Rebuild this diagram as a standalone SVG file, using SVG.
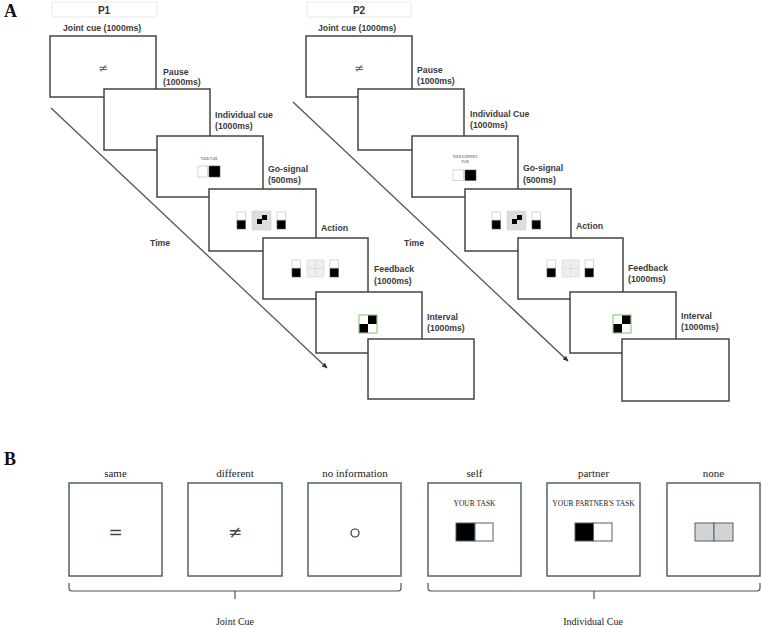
<svg xmlns="http://www.w3.org/2000/svg" xmlns:xlink="http://www.w3.org/1999/xlink" width="762" height="628" viewBox="0 0 762 628">
<style>
.bx{fill:#fff;stroke:#444;stroke-width:1.5}
.lbl{font-family:"Liberation Sans",Arial,sans-serif;font-weight:bold;font-size:8.7px;fill:#3a3a3a}
.hdr{font-family:"Liberation Sans",Arial,sans-serif;font-weight:bold;font-size:10px;fill:#333;text-anchor:middle}
.panel{font-family:"Liberation Serif","Times New Roman",serif;font-weight:bold;font-size:18px;fill:#111}
.sb{fill:#fff;stroke:#4f6272;stroke-width:1.5}
.slbl{font-family:"Liberation Serif","Times New Roman",serif;font-size:11px;fill:#222;text-anchor:middle}
.tiny{font-family:"Liberation Serif","Times New Roman",serif;font-size:3px;fill:#333;text-anchor:middle}
.small{font-family:"Liberation Serif","Times New Roman",serif;font-size:7.5px;fill:#222;text-anchor:middle}
.sym{font-family:"DejaVu Sans",sans-serif;font-size:17px;fill:#444;text-anchor:middle}
.tl{stroke:#555;stroke-width:1.3;fill:none}
.br{stroke:#555;stroke-width:1.2;fill:none}
.wsq{fill:#fff;stroke:#ccc;stroke-width:0.8}
.bsq{fill:#000;stroke:#555;stroke-width:0.6}
</style>
<defs>
<marker id="ah" markerWidth="6" markerHeight="6" refX="5" refY="3" orient="auto" markerUnits="userSpaceOnUse">
<path d="M0,0.5 L5.5,3 L0,5.5 Z" fill="#333"/>
</marker>
<g id="stack">
<rect x="0" y="0" width="8.5" height="8" class="wsq"/>
<rect x="0" y="8.5" width="8.5" height="8.5" class="bsq"/>
</g>
<g id="go">
<use xlink:href="#stack" x="28" y="23"/>
<rect x="43" y="22" width="19" height="19" fill="#ddd" stroke="#ccc" stroke-width="0.5"/>
<rect x="48" y="30" width="5" height="5" fill="#000"/>
<rect x="53" y="26" width="5" height="5" fill="#000"/>
<use xlink:href="#stack" x="68" y="23"/>
</g>
<g id="act">
<use xlink:href="#stack" x="29" y="22"/>
<rect x="44" y="22" width="17" height="17" fill="#eee" stroke="#d4d4d4" stroke-width="0.6"/>
<line x1="52.5" y1="22" x2="52.5" y2="39" stroke="#d4d4d4" stroke-width="0.6"/>
<line x1="44" y1="30.5" x2="61" y2="30.5" stroke="#d4d4d4" stroke-width="0.6"/>
<use xlink:href="#stack" x="67" y="22"/>
</g>
<g id="fb">
<rect x="43" y="23" width="18" height="18" fill="#fff" stroke="#7cc46a" stroke-width="1"/>
<rect x="52" y="23.5" width="8.5" height="8.5" fill="#000"/>
<rect x="43.5" y="32" width="8.5" height="8.5" fill="#000"/>
</g>
</defs>

<text x="4" y="17" class="panel">A</text>
<text x="4" y="465" class="panel">B</text>

<!-- P1 sequence -->
<g id="p1-header">
<rect x="52" y="2" width="105" height="15" fill="none" stroke="#e4e4e4" stroke-width="0.8"/>
<text x="104" y="14" class="hdr">P1</text>
</g>
<g id="p1-connectors">
<line x1="51" y1="108" x2="327" y2="368" class="tl" marker-end="url(#ah)"/>
</g>
<g id="p1-joint">
<text x="63" y="31" class="lbl">Joint cue (1000ms)</text>
<rect x="50" y="36" width="106" height="61" class="bx"/>
<text x="103" y="72" class="sym" style="font-size:12px;fill:#666">≠</text>
</g>
<g id="p1-pause">
<text x="163" y="75" class="lbl">Pause</text>
<text x="163" y="85" class="lbl">(1000ms)</text>
<rect x="104" y="89" width="106" height="61" class="bx"/>
</g>
<g id="p1-indiv">
<text x="215" y="118" class="lbl">Individual cue</text>
<text x="215" y="129" class="lbl">(1000ms)</text>
<rect x="157" y="136" width="106" height="61" class="bx"/>
<text x="209" y="160" class="tiny">YOUR TASK</text>
<rect x="198" y="166" width="9.5" height="11" class="wsq"/>
<rect x="209" y="166" width="11" height="11" class="bsq"/>
</g>
<g id="p1-go">
<text x="268" y="172" class="lbl">Go-signal</text>
<text x="268" y="183" class="lbl">(500ms)</text>
<rect x="209" y="189" width="107" height="62" class="bx"/>
<use xlink:href="#go" x="209" y="189"/>
</g>
<g id="p1-action">
<text x="321" y="231" class="lbl">Action</text>
<rect x="263" y="238" width="105" height="61" class="bx"/>
<use xlink:href="#act" x="263" y="238"/>
</g>
<g id="p1-feedback">
<text x="374" y="272" class="lbl">Feedback</text>
<text x="374" y="284" class="lbl">(1000ms)</text>
<rect x="316" y="292" width="106" height="61" class="bx"/>
<use xlink:href="#fb" x="316" y="292"/>
</g>
<g id="p1-interval">
<text x="427" y="320" class="lbl">Interval</text>
<text x="427" y="331" class="lbl">(1000ms)</text>
<rect x="368" y="339" width="106" height="60" class="bx"/>
</g>
<text x="150" y="246" class="lbl">Time</text>

<!-- P2 sequence -->
<g id="p2-header">
<rect x="307" y="2" width="104" height="15" fill="none" stroke="#e4e4e4" stroke-width="0.8"/>
<text x="359" y="14" class="hdr">P2</text>
</g>
<g id="p2-connectors">
<line x1="293" y1="102" x2="568" y2="361" class="tl" marker-end="url(#ah)"/>
</g>
<g id="p2-joint">
<text x="318" y="31" class="lbl">Joint cue (1000ms)</text>
<rect x="306" y="36" width="106" height="61" class="bx"/>
<text x="359" y="72" class="sym" style="font-size:12px;fill:#666">≠</text>
</g>
<g id="p2-pause">
<text x="417" y="73" class="lbl">Pause</text>
<text x="417" y="84" class="lbl">(1000ms)</text>
<rect x="358" y="89" width="106" height="61" class="bx"/>
</g>
<g id="p2-indiv">
<text x="470" y="117" class="lbl">Individual Cue</text>
<text x="470" y="128" class="lbl">(1000ms)</text>
<rect x="412" y="136" width="106" height="61" class="bx"/>
<text x="465" y="158" class="tiny">YOUR PARTNER'S</text>
<text x="465" y="163" class="tiny">TASK</text>
<rect x="453" y="170" width="10.5" height="10.5" class="wsq"/>
<rect x="465" y="170" width="11" height="10.5" class="bsq"/>
</g>
<g id="p2-go">
<text x="523" y="171" class="lbl">Go-signal</text>
<text x="523" y="183" class="lbl">(500ms)</text>
<rect x="465" y="189" width="106" height="62" class="bx"/>
<use xlink:href="#go" x="464" y="189"/>
</g>
<g id="p2-action">
<text x="576" y="229" class="lbl">Action</text>
<rect x="518" y="238" width="105" height="61" class="bx"/>
<use xlink:href="#act" x="518" y="238"/>
</g>
<g id="p2-feedback">
<text x="628" y="271" class="lbl">Feedback</text>
<text x="628" y="282" class="lbl">(1000ms)</text>
<rect x="570" y="292" width="106" height="61" class="bx"/>
<use xlink:href="#fb" x="570" y="292"/>
</g>
<g id="p2-interval">
<text x="681" y="319" class="lbl">Interval</text>
<text x="681" y="330" class="lbl">(1000ms)</text>
<rect x="622" y="339" width="107" height="62" class="bx"/>
</g>
<text x="404" y="246" class="lbl">Time</text>

<!-- Panel B -->
<g id="b-same">
<text x="115.5" y="477" class="slbl">same</text>
<rect x="69" y="483" width="93" height="93" class="sb"/>
<text x="115.5" y="538" class="sym">=</text>
</g>
<g id="b-different">
<text x="235" y="477" class="slbl">different</text>
<rect x="188" y="483" width="94" height="93" class="sb"/>
<text x="235" y="538" class="sym">≠</text>
</g>
<g id="b-noinfo">
<text x="355" y="477" class="slbl">no information</text>
<rect x="308" y="483" width="93" height="93" class="sb"/>
<circle cx="355" cy="533" r="4" fill="none" stroke="#333" stroke-width="1.2"/>
</g>
<g id="b-self">
<text x="474.5" y="477" class="slbl">self</text>
<rect x="428" y="483" width="93" height="93" class="sb"/>
<text x="474.5" y="506" class="small">YOUR TASK</text>
<rect x="456" y="523" width="19" height="18" fill="#000" stroke="#4f6272" stroke-width="1"/>
<rect x="475" y="523" width="18" height="18" fill="#fff" stroke="#4f6272" stroke-width="1"/>
</g>
<g id="b-partner">
<text x="593.5" y="477" class="slbl">partner</text>
<rect x="547" y="483" width="93" height="93" class="sb"/>
<text x="593.5" y="506" class="small">YOUR PARTNER'S TASK</text>
<rect x="575" y="523" width="18.5" height="18" fill="#000" stroke="#4f6272" stroke-width="1"/>
<rect x="593.5" y="523" width="18.5" height="18" fill="#fff" stroke="#4f6272" stroke-width="1"/>
</g>
<g id="b-none">
<text x="713.5" y="477" class="slbl">none</text>
<rect x="667" y="483" width="93" height="93" class="sb"/>
<rect x="695" y="523" width="19" height="18" fill="#d3d3d3" stroke="#4f6272" stroke-width="1"/>
<rect x="714" y="523" width="19" height="18" fill="#d3d3d3" stroke="#4f6272" stroke-width="1"/>
</g>
<g id="braces">
<path d="M69,583 L69,588 Q69,591 72,591 L398,591 Q401,591 401,588 L401,583" class="br"/>
<line x1="235" y1="591" x2="235" y2="599" class="br"/>
<path d="M428,583 L428,588 Q428,591 431,591 L757,591 Q760,591 760,588 L760,583" class="br"/>
<line x1="594" y1="591" x2="594" y2="599" class="br"/>
</g>
<text x="235" y="625" class="slbl" style="font-size:10px">Joint Cue</text>
<text x="593" y="625" class="slbl" style="font-size:10px">Individual Cue</text>
</svg>
